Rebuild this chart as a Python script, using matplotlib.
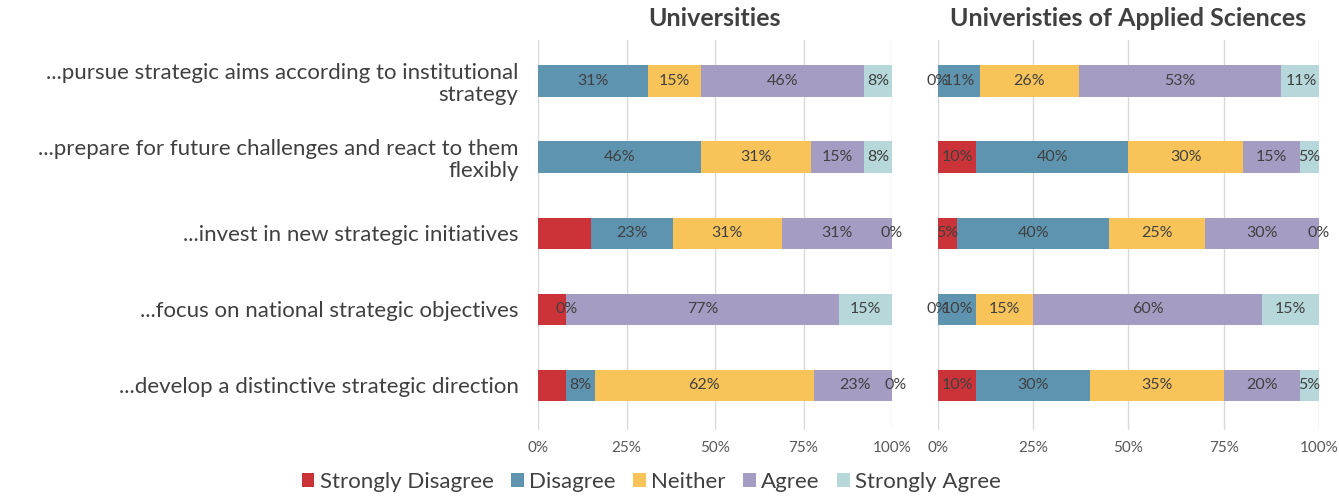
import matplotlib
matplotlib.use("Agg")
import matplotlib.pyplot as plt
from matplotlib.patches import Patch
import numpy as np

plt.rcParams['font.family'] = ['Lato', 'DejaVu Sans']

statements = [
    "...pursue strategic aims according to institutional\nstrategy",
    "...prepare for future challenges and react to them\nflexibly",
    "...invest in new strategic initiatives",
    "...focus on national strategic objectives",
    "...develop a distinctive strategic direction",
]
responses = ["Strongly Disagree", "Disagree", "Neither", "Agree", "Strongly Agree"]
colors = ["#CC3338", "#5E94AF", "#F8C45A", "#A59CC3", "#B6D8DA"]

# Shares per statement, in order of the responses above (percent)
uni_values = [
    [0, 31, 15, 46, 8],
    [0, 46, 31, 15, 8],
    [15, 23, 31, 31, 0],
    [8, 0, 0, 77, 15],
    [8, 8, 62, 23, 0],
]
# Which segment labels are printed (some small shares carry no label)
uni_shown = [
    [0, 1, 1, 1, 1],
    [0, 1, 1, 1, 1],
    [0, 1, 1, 1, 1],
    [0, 1, 0, 1, 1],
    [0, 1, 1, 1, 1],
]

uas_values = [
    [0, 11, 26, 53, 11],
    [10, 40, 30, 15, 5],
    [5, 40, 25, 30, 0],
    [0, 10, 15, 60, 15],
    [10, 30, 35, 20, 5],
]
uas_shown = [
    [1, 1, 1, 1, 1],
    [1, 1, 1, 1, 1],
    [1, 1, 1, 1, 1],
    [1, 1, 1, 1, 1],
    [1, 1, 1, 1, 1],
]

x_ticks = [0, 25, 50, 75, 100]
titles = ["Universities", "Univeristies of Applied Sciences"]

text_color = "#404040"
fig = plt.figure(figsize=(13.39, 4.99), dpi=100)
bottom, height = 1 - 430 / 499, (430 - 40) / 499
ax1 = fig.add_axes([538 / 1339, bottom, 354 / 1339, height])
ax2 = fig.add_axes([938 / 1339, bottom, 381 / 1339, height])


def draw_panel(ax, values, shown, title, show_labels):
    vals = np.array(values, dtype=float)
    y = np.arange(len(statements))
    left = np.zeros(len(statements))
    for j, (name, col) in enumerate(zip(responses, colors)):
        ax.barh(y, vals[:, j], left=left, height=0.41, color=col,
                edgecolor="none", zorder=2)
        for i in range(len(statements)):
            if shown[i][j]:
                ax.text(left[i] + vals[i, j] / 2, y[i], f"{int(vals[i, j])}%",
                        ha="center", va="center", fontsize=11.5,
                        color=text_color, zorder=3)
        left += vals[:, j]
    ax.set_xlim(0, 100)
    ax.set_ylim(4.59, -0.54)
    ax.set_xticks(x_ticks)
    ax.set_xticklabels([f"{t}%" for t in x_ticks], fontsize=11, color="#595959")
    ax.tick_params(axis="x", length=0, pad=8)
    ax.xaxis.grid(True, color="#D9D9D9", linewidth=1, zorder=0)
    ax.set_axisbelow(True)
    for s in ax.spines.values():
        s.set_visible(False)
    ax.set_yticks(range(len(statements)))
    if show_labels:
        ax.set_yticklabels(statements, fontsize=16, color=text_color,
                           linespacing=1.15)
        ax.tick_params(axis="y", length=0, pad=14)
    else:
        ax.set_yticklabels([])
        ax.tick_params(axis="y", length=0)
    ax.set_title(title, fontsize=18, fontweight="bold", color="#404040", pad=10)


draw_panel(ax1, uni_values, uni_shown, titles[0], True)
draw_panel(ax2, uas_values, uas_shown, titles[1], False)

handles = [Patch(facecolor=c, edgecolor="none") for c in colors]
fig.legend(handles, responses, loc="center left",
           bbox_to_anchor=(293 / 1339, 1 - 482 / 499), ncol=5, frameon=False,
           fontsize=16, handlelength=0.55, handleheight=0.55, handletextpad=0.25,
           columnspacing=0.8, labelcolor=text_color, borderaxespad=0)

fig.savefig("out.png", dpi=100)
